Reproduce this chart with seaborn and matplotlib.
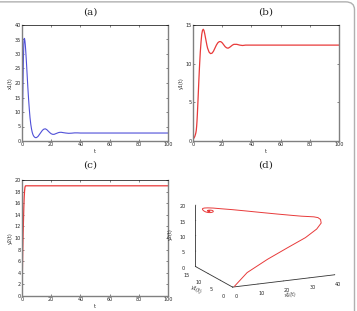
import numpy as np
import pandas as pd
import matplotlib
matplotlib.use('Agg')
from matplotlib import pyplot as plt
from matplotlib import patches
import seaborn as sns

sns.set_theme(style='white')
plt.rcParams['font.family'] = ['DejaVu Sans']

# time samples
t = [0, 0.25, 0.5, 0.75, 1, 1.25, 1.5, 1.75, 2, 2.25, 2.5, 2.75, 3, 3.5, 4, 4.5, 5,
     5.5, 6, 6.5, 7, 7.5, 8, 8.5, 9, 9.5, 10, 11, 12, 13, 14, 15, 16, 17, 18, 19, 20,
     21, 22, 23, 24, 25, 26, 27, 28, 30, 32, 34, 36, 38, 40, 50, 60, 70, 80, 90, 100]

x1 = [1, 6, 14, 22, 29, 33.5, 35.4, 35.3, 34.5, 33.2, 31.5, 29.5, 27.5, 23, 18.5, 14.5, 11,
      8, 5.8, 4.2, 3, 2.2, 1.7, 1.4, 1.2, 1.15, 1.2, 1.6, 2.3, 3.0, 3.7, 4.1, 4.2, 3.9, 3.4, 2.9, 2.5,
      2.3, 2.3, 2.5, 2.7, 2.9, 3.0, 3.0, 2.9, 2.75, 2.65, 2.7, 2.8, 2.8, 2.75, 2.75, 2.75, 2.75, 2.75, 2.75, 2.75]

y1 = [0.3, 0.3, 0.35, 0.4, 0.5, 0.6, 0.75, 0.9, 1.1, 1.4, 1.9, 2.6, 3.5, 5.6, 7.8, 9.8, 11.5,
      12.8, 13.8, 14.3, 14.45, 14.3, 13.9, 13.4, 12.9, 12.4, 12.0, 11.5, 11.3, 11.35, 11.6, 12.0, 12.4, 12.7, 12.85, 12.85, 12.7,
      12.45, 12.2, 12.05, 12.0, 12.1, 12.25, 12.4, 12.5, 12.5, 12.4, 12.35, 12.4, 12.4, 12.4, 12.4, 12.4, 12.4, 12.4, 12.4, 12.4]

y2 = [0, 4, 7.5, 10.5, 13, 15.3, 17, 18.1, 18.7, 18.95, 19.0, 19.0, 19.0, 19.0, 19.0, 19.0, 19.0,
      19.0, 19.0, 19.0, 19.0, 19.0, 19.0, 19.0, 19.0, 19.0, 19.0, 19.0, 19.0, 19.0, 19.0, 19.0, 19.0, 19.0, 19.0, 19.0, 19.0,
      19.0, 19.0, 19.0, 19.0, 19.0, 19.0, 19.0, 19.0, 19.0, 19.0, 19.0, 19.0, 19.0, 19.0, 19.0, 19.0, 19.0, 19.0, 19.0, 19.0]

df = pd.DataFrame({'t': t, 'x1': x1, 'y1': y1, 'y2': y2})

W, H = 357, 311
fig = plt.figure(figsize=(W / 100, H / 100), dpi=100)

tick_fs = 3.5
title_fs = 7.5


def style_ax(ax, ylabel, yticks):
    ax.set_xlim(0, 100)
    ax.set_ylim(yticks[0], yticks[-1])
    ax.set_xticks([0, 20, 40, 60, 80, 100])
    ax.set_yticks(yticks)
    ax.tick_params(labelsize=tick_fs, direction='in', length=1.5, width=0.4, pad=1,
                   top=True, right=True, bottom=True, left=True)
    ax.set_xlabel('t', fontsize=tick_fs, labelpad=1)
    ax.set_ylabel(ylabel, fontsize=tick_fs, labelpad=1)
    for s in ['left', 'right', 'bottom']:
        ax.spines[s].set_color('#808080')
        ax.spines[s].set_linewidth(1.0)
    ax.spines['top'].set_color('black')
    ax.spines['top'].set_linewidth(0.5)


ax_a = fig.add_axes([22 / W, 1 - 141 / H, 146 / W, 116 / H])
sns.lineplot(data=df, x='t', y='x1', ax=ax_a, color='#5050d8', lw=0.8)
style_ax(ax_a, 'x1(t)', [0, 5, 10, 15, 20, 25, 30, 35, 40])

ax_b = fig.add_axes([193 / W, 1 - 141 / H, 146 / W, 116 / H])
sns.lineplot(data=df, x='t', y='y1', ax=ax_b, color='#e83a3a', lw=0.9)
style_ax(ax_b, 'y1(t)', [0, 5, 10, 15])

ax_c = fig.add_axes([22 / W, 1 - 296 / H, 146 / W, 116 / H])
sns.lineplot(data=df, x='t', y='y2', ax=ax_c, color='#e83a3a', lw=0.9)
style_ax(ax_c, 'y2(t)', [0, 2, 4, 6, 8, 10, 12, 14, 16, 18, 20])

# 3D phase portrait
ax_d = fig.add_axes([170 / W, -7 / H, 186 / W, 152 / H], projection='3d')
ax_d.plot(df['x1'], df['y1'], df['y2'], color='#e83a3a', lw=0.7)
ax_d.set_xlim(0, 40)
ax_d.set_ylim(0, 15)
ax_d.set_zlim(0, 20)
ax_d.set_xticks([0, 10, 20, 30, 40])
ax_d.set_yticks([0, 5, 10, 15])
ax_d.set_zticks([0, 5, 10, 15, 20])
ax_d.set_proj_type('ortho')
ax_d.set_box_aspect((1.28, 1.0, 0.72))
ax_d.view_init(elev=15, azim=-115)
ax_d.grid(False)
for axis in [ax_d.xaxis, ax_d.yaxis, ax_d.zaxis]:
    axis.set_pane_color((1, 1, 1, 0))
    axis.pane.set_edgecolor((1, 1, 1, 0))
    axis.line.set_color('#333333')
    axis.line.set_linewidth(0.6)
    axis._axinfo['tick']['inward_factor'] = 0.0
    axis._axinfo['tick']['outward_factor'] = 0.08
    axis._axinfo['tick']['linewidth'] = {True: 0.4, False: 0.3}
    axis.set_tick_params(labelsize=tick_fs, pad=-3, width=0.4, color='#333333')
ax_d.set_xlabel('x1(t)', fontsize=tick_fs, labelpad=-11)
ax_d.set_ylabel('y1(t)', fontsize=tick_fs, labelpad=-11)
ax_d.set_zlabel('y2(t)', fontsize=tick_fs, labelpad=-11)

for txt, x, y in [('(a)', 90, 12), ('(b)', 266, 12), ('(c)', 90, 165), ('(d)', 266, 165)]:
    fig.text(x / W, 1 - y / H, txt, ha='center', va='center', fontsize=title_fs,
             family='DejaVu Serif')

# rounded frame at top/right edges
frame = patches.FancyBboxPatch((-0.1, -0.1), 1.093, 1.094,
                               boxstyle='round,pad=0,rounding_size=0.025',
                               transform=fig.transFigure, fill=False,
                               ec='#b0b0b0', lw=1.0)
fig.patches.append(frame)

fig.savefig('out.png', dpi=100)
